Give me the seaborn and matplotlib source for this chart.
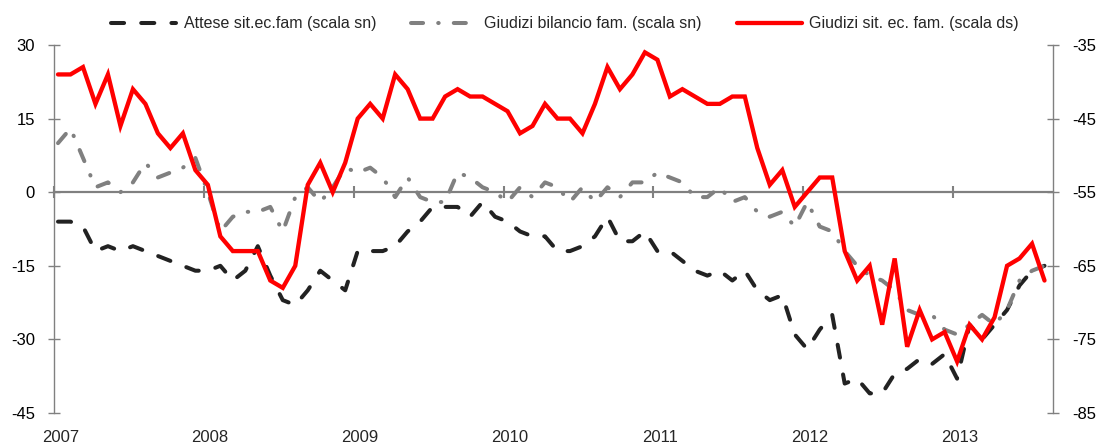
import numpy as np
import pandas as pd
import matplotlib
matplotlib.use("Agg")
import matplotlib.pyplot as plt
import seaborn as sns

# ---- data (monthly, Jan 2007 - Aug 2013) ----
years = ["2007", "2008", "2009", "2010", "2011", "2012", "2013"]
series_labels = ["Attese sit.ec.fam (scala sn)",
                 "Giudizi bilancio fam. (scala sn)",
                 "Giudizi sit. ec. fam. (scala ds)"]

attese = [-6, -6, -7, -12, -11, -12, -11, -12, -13, -14, -15, -16, -16, -15, -18, -16, -11, -17, -22, -23,
          -20, -16, -18, -20, -12, -12, -12, -11, -8, -6, -3, -3, -3, -5, -2, -5, -6, -8, -9, -9,
          -12, -12, -11, -9, -5, -10, -10, -8, -12, -12, -14, -16, -17, -16, -18, -16, -20, -22, -21, -29,
          -32, -28, -25, -39, -38, -41, -41, -37, -36, -34, -35, -33, -38, -27, -30, -27, -24, -19, -16, -15]

bilancio = [10, 13, 7, 1, 2, 0, 2, 6, 3, 4, 5, 7, 0, -8, -5, -4, -4, -3, -8, -1,
            1, -2, 1, 5, 4, 5, 3, -1, 3, -1, -2, -2, 4, 3, 1, 0, -2, 1, -1, 2,
            1, -2, 1, -2, 1, -1, 2, 2, 4, 3, 2, -1, -1, 1, -2, -1, -4, -5, -4, -7,
            -2, -7, -8, -12, -15, -17, -18, -20, -24, -25, -25, -28, -29, -27, -25, -27, -24, -18, -16, -15]

giudizi = [-39, -39, -38, -43, -39, -46, -41, -43, -47, -49, -47, -52, -54, -61, -63, -63, -63, -67, -68, -65,
           -54, -51, -55, -51, -45, -43, -45, -39, -41, -45, -45, -42, -41, -42, -42, -43, -44, -47, -46, -43,
           -45, -45, -47, -43, -38, -41, -39, -36, -37, -42, -41, -42, -43, -43, -42, -42, -49, -54, -52, -57,
           -55, -53, -53, -63, -67, -65, -73, -64, -76, -71, -75, -74, -78, -73, -75, -72, -65, -64, -62, -67]

left_ticks = [30, 15, 0, -15, -30, -45]
right_ticks = [-35, -45, -55, -65, -75, -85]

# ---- style ----
sns.set_style("white")
plt.rcParams["font.family"] = ["Liberation Sans", "DejaVu Sans"]

n = len(giudizi)
df = pd.DataFrame({"month": np.arange(n) + 0.32,
                   "attese": attese, "bilancio": bilancio, "giudizi": giudizi})

AX_GRAY = "#808080"
fig = plt.figure(figsize=(10.99, 4.47), dpi=100)
W, H = 1099, 447
ax = fig.add_axes([54 / W, 1 - 413 / H, (1053 - 54) / W, (413 - 45) / H])
ax2 = ax.twinx()

sns.lineplot(data=df, x="month", y="attese", ax=ax, color="#222222", lw=2.9,
             linestyle=(0, (3.25, 4.25)), dash_capstyle="round", zorder=3, legend=False)
sns.lineplot(data=df, x="month", y="bilancio", ax=ax, color=AX_GRAY, lw=2.9,
             linestyle=(0, (3.0, 3.75, 0.12, 3.75)), dash_capstyle="round", zorder=3, legend=False)
sns.lineplot(data=df, x="month", y="giudizi", ax=ax2, color="#FF0000", lw=3.1,
             solid_capstyle="round", solid_joinstyle="miter", zorder=3, legend=False)

# ---- axes ----
ax.set_xlim(0, n)
ax.set_ylim(-45, 30)
ax2.set_ylim(-85, -35)
ax.set_xlabel("")
ax.set_ylabel("")
ax2.set_xlabel("")
ax2.set_ylabel("")

ax.set_yticks(left_ticks)
ax.set_yticklabels([str(v) for v in left_ticks])
ax2.set_yticks(right_ticks)
ax2.set_yticklabels([str(v) for v in right_ticks])

ax.set_xticks([12 * k for k in range(len(years))])
ax.tick_params(axis="x", bottom=True, direction="inout", length=8.6, width=1.5,
               color=AX_GRAY, labelbottom=False)
ax.tick_params(axis="y", left=True, right=False, direction="inout", length=8.6, width=1,
               color=AX_GRAY, labelsize=12, pad=9.5, labelcolor="black")
ax2.tick_params(axis="y", right=True, left=False, direction="inout", length=8.6, width=1,
                color=AX_GRAY, labelsize=12, pad=9.5, labelcolor="black")

for s in ["top", "right"]:
    ax.spines[s].set_visible(False)
ax.spines["left"].set_color(AX_GRAY)
ax.spines["left"].set_linewidth(1.0)
ax.spines["bottom"].set_position(("data", 0))
ax.spines["bottom"].set_color(AX_GRAY)
ax.spines["bottom"].set_linewidth(1.6)
for s in ["top", "left", "bottom"]:
    ax2.spines[s].set_visible(False)
ax2.spines["right"].set_color(AX_GRAY)
ax2.spines["right"].set_linewidth(1.0)

sec = ax.secondary_xaxis(0.0)
sec.set_xticks([12 * k + 0.5 for k in range(len(years))])
sec.set_xticklabels(years)
sec.tick_params(axis="x", length=0, pad=12, labelsize=12)
sec.spines["bottom"].set_visible(False)

# ---- legend ----
handles = [ax.lines[0], ax.lines[1], ax2.lines[0]]
fig.legend(handles=handles, labels=series_labels, loc="center",
           bbox_to_anchor=(0.514, 0.947), ncol=3, frameon=False, fontsize=11.5,
           handlelength=4.1, handletextpad=0.45, columnspacing=2.2,
           borderpad=0, borderaxespad=0)

fig.savefig("out.png", dpi=100, facecolor="white")
